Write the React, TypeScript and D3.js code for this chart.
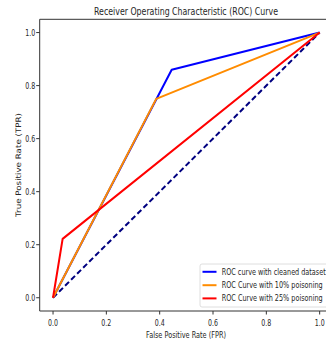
import React from "react";
import * as d3 from "d3";

// ROC points
const cleanFpr = [0, 0.445, 1];
const cleanTpr = [0, 0.86, 1];
const p10Fpr = [0, 0.387, 1];
const p10Tpr = [0, 0.75, 1];
const p25Fpr = [0, 0.036, 1];
const p25Tpr = [0, 0.222, 1];
const chanceLine = [0, 1];

const ticks = [0, 0.2, 0.4, 0.6, 0.8, 1.0];
const legendLabels = [
  "ROC curve with cleaned dataset",
  "ROC Curve with 10% poisoning",
  "ROC Curve with 25% poisoning",
];
const legendColors = ["#0000ff", "#ff8c00", "#ff0000"];

const W = 326,
  H = 345;
const margin = { top: 19.3, left: 39.7 };
const plotW = 293.3,
  plotH = 291.7;

const App = () => {
  const x = d3.scaleLinear().domain([-0.05, 1.05]).range([margin.left, margin.left + plotW]);
  const y = d3.scaleLinear().domain([-0.05, 1.05]).range([margin.top + plotH, margin.top]);

  const line = d3
    .line<[number, number]>()
    .x((d) => x(d[0]))
    .y((d) => y(d[1]));

  const series = [
    { fpr: cleanFpr, tpr: cleanTpr, color: legendColors[0] },
    { fpr: p10Fpr, tpr: p10Tpr, color: legendColors[1] },
    { fpr: p25Fpr, tpr: p25Tpr, color: legendColors[2] },
  ];

  const font = "DejaVu Sans, sans-serif";
  const txt = "#262626";
  const bottom = margin.top + plotH;

  const legendX = 200,
    legendY = 264;
  const rowY = [271.8, 285.2, 298.4];
  const legendLens = [104, 101, 101];

  return (
    <svg
      width={W}
      height={H}
      style={{ position: "absolute", left: 0, top: 0, background: "#fff" }}
      fontFamily={font}
    >
      {/* title */}
      <text
        x={94}
        y={14.5}
        fontSize={10.5}
        fill={txt}
        textLength={184}
        lengthAdjust="spacingAndGlyphs"
      >
        Receiver Operating Characteristic (ROC) Curve
      </text>

      {/* chance diagonal */}
      <path
        d={line(chanceLine.map((v) => [v, v]) as [number, number][]) || ""}
        fill="none"
        stroke="#000080"
        strokeWidth={2}
        strokeDasharray="5.5,3"
      />

      {series.map((s, i) => (
        <path
          key={i}
          d={line(s.fpr.map((f, j) => [f, s.tpr[j]]) as [number, number][]) || ""}
          fill="none"
          stroke={s.color}
          strokeWidth={2}
          strokeLinejoin="round"
        />
      ))}

      {/* spines */}
      <line x1={margin.left} x2={margin.left} y1={margin.top} y2={bottom} stroke="#333" strokeWidth={1} />
      <line x1={margin.left} x2={margin.left + plotW} y1={bottom} y2={bottom} stroke="#333" strokeWidth={1} />
      <line x1={margin.left} x2={margin.left + plotW} y1={margin.top} y2={margin.top} stroke="#333" strokeWidth={1} />

      {/* x ticks */}
      {ticks.map((t) => (
        <g key={"x" + t}>
          <line x1={x(t)} x2={x(t)} y1={bottom} y2={bottom + 3.5} stroke="#333" />
          <text
            x={x(t)}
            y={325.5}
            fontSize={8.5}
            fill={txt}
            textAnchor="middle"
            textLength={10}
            lengthAdjust="spacingAndGlyphs"
          >
            {t.toFixed(1)}
          </text>
        </g>
      ))}

      {/* y ticks */}
      {ticks.map((t) => (
        <g key={"y" + t}>
          <line x1={margin.left - 3.5} x2={margin.left} y1={y(t)} y2={y(t)} stroke="#333" />
          <text
            x={35.3}
            y={y(t) + 3}
            fontSize={8.5}
            fill={txt}
            textAnchor="end"
            textLength={10}
            lengthAdjust="spacingAndGlyphs"
          >
            {t.toFixed(1)}
          </text>
        </g>
      ))}

      {/* axis labels */}
      <text
        x={146}
        y={337.5}
        fontSize={8.5}
        fill={txt}
        textLength={80}
        lengthAdjust="spacingAndGlyphs"
      >
        False Positive Rate (FPR)
      </text>
      <text
        transform={`translate(21,217) rotate(-90)`}
        fontSize={7.5}
        fill={txt}
        textLength={104}
        lengthAdjust="spacingAndGlyphs"
      >
        True Positive Rate (TPR)
      </text>

      {/* legend */}
      <rect
        x={legendX}
        y={legendY}
        width={140}
        height={43}
        rx={2}
        fill="#fff"
        fillOpacity={0.85}
        stroke="#d6d6d6"
        strokeWidth={0.8}
      />
      {legendLabels.map((lab, i) => (
        <g key={lab}>
          <line x1={202.5} x2={216.5} y1={rowY[i]} y2={rowY[i]} stroke={legendColors[i]} strokeWidth={2} />
          <text
            x={221.7}
            y={rowY[i] + 3}
            fontSize={8.5}
            fill={txt}
            textLength={legendLens[i]}
            lengthAdjust="spacingAndGlyphs"
          >
            {lab}
          </text>
        </g>
      ))}
    </svg>
  );
};

export default App;
